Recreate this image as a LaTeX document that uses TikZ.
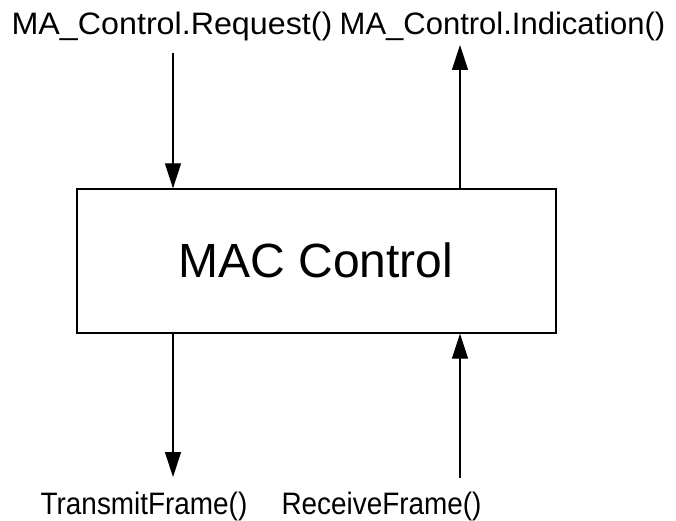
\documentclass[tikz,border=0pt]{standalone}
\usepackage{fontspec}
\setmainfont{Liberation Sans}
\usetikzlibrary{arrows.meta}
\tikzset{
  flow/.style={line width=1.3pt, -{Triangle[length=25pt,width=16pt]}},
  block/.style={draw, line width=1.3pt, minimum width=479pt, minimum height=144pt, inner sep=0pt},
  label/.style={inner sep=0pt, anchor=base, font=\fontsize{31}{31}\selectfont},
  title/.style={inner sep=0pt, anchor=base, font=\fontsize{48}{48}\selectfont}
}
\begin{document}
\begin{tikzpicture}[x=1pt, y=-1pt]
  \useasboundingbox (0,0) rectangle (676,521);

  % central block
  \node[block] (mac) at (316.5,261) {};
  \node[title] (mactext) at (316,277) {MAC Control};

  % service primitives above and frame primitives below
  \node[label] (req) at (172,35) {\scalebox{1.04}[1]{MA\_Control.Request()}};
  \node[label] (ind) at (502.5,35) {\scalebox{1.0}[1]{MA\_Control.Indication()}};
  \node[label] (tx) at (144,514) {\scalebox{0.9}[1]{TransmitFrame()}};
  \node[label] (rx) at (381.5,514) {\scalebox{0.9}[1]{ReceiveFrame()}};

  % free ends of the connectors
  \coordinate (reqEnd) at (173,53);
  \coordinate (indEnd) at (460,45);
  \coordinate (txEnd) at (173,477);
  \coordinate (rxEnd) at (460,478);

  \draw[flow] (reqEnd) -- (reqEnd |- mac.north);
  \draw[flow] (indEnd |- mac.north) -- (indEnd);
  \draw[flow] (txEnd |- mac.south) -- (txEnd);
  \draw[flow] (rxEnd) -- (rxEnd |- mac.south);
\end{tikzpicture}
\end{document}
